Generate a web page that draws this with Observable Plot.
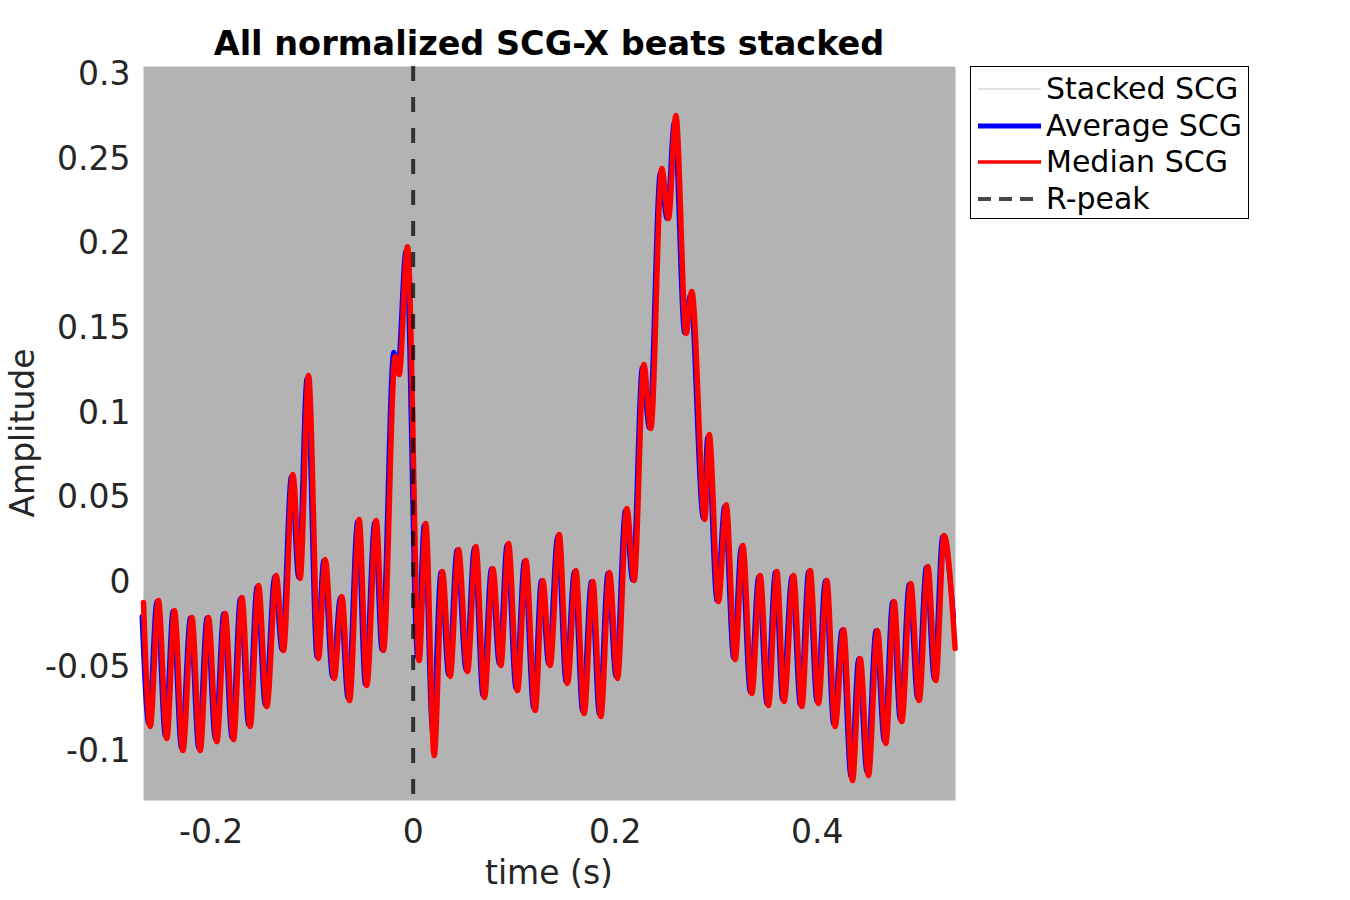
<!DOCTYPE html>
<html>
<head>
<meta charset="utf-8">
<script src="https://cdn.jsdelivr.net/npm/d3@7"></script>
<script src="https://cdn.jsdelivr.net/npm/@observablehq/plot@0.6"></script>
<style>
  body { margin: 0; background: #fff; font-family: "DejaVu Sans", sans-serif; }
  #wrap { position: relative; width: 1350px; height: 900px; overflow: hidden; }
  #chart { position: absolute; left: 0; top: 0; }
  #title { position: absolute; left: 549px; top: 44px; transform: translate(-50%, -50%);
           font-weight: bold; font-size: 33.5px; line-height: 1; color: #000; white-space: nowrap; }
  #ylab { position: absolute; left: 22px; top: 433px; transform: translate(-50%, -50%) rotate(-90deg);
          font-size: 33px; color: #262626; white-space: nowrap; line-height: 1; }
  #xlab { position: absolute; left: 549px; top: 872px; transform: translate(-50%, -50%);
          font-size: 33px; color: #262626; white-space: nowrap; line-height: 1; }
  #legend { position: absolute; left: 970px; top: 66px; width: 279px; height: 153px;
            border: 1px solid #000; background: #fff; box-sizing: border-box; }
  .row { position: absolute; left: 0; height: 36px; width: 100%; }
  .row svg { position: absolute; left: 6px; top: 0; }
  .row span { position: absolute; left: 75px; top: 50%; transform: translateY(-50%);
              font-size: 30px; color: #000; white-space: nowrap; line-height: 1; }
</style>
</head>
<body>
<div id="wrap">
  <div id="chart"></div>
  <div id="title">All normalized SCG-X beats stacked</div>
  <div id="ylab">Amplitude</div>
  <div id="xlab">time (s)</div>
  <div id="legend"></div>
</div>
<script>
// ---- data ----
const timeS = [
  -0.2670, -0.2604, -0.2522, -0.2439, -0.2363, -0.2280, -0.2191, -0.2109, -0.2027, -0.1944,
  -0.1861, -0.1779, -0.1696, -0.1614, -0.1531, -0.1449, -0.1356, -0.1284, -0.1191, -0.1119,
  -0.1036, -0.0937, -0.0871, -0.0782, -0.0706, -0.0630, -0.0535, -0.0459, -0.0366, -0.0294,
  -0.0178, -0.0139, -0.0056,  0.0059,  0.0125,  0.0208,  0.0290,  0.0366,  0.0449,  0.0538,
   0.0621,  0.0706,  0.0789,  0.0868,  0.0944,  0.1033,  0.1116,  0.1208,  0.1284,  0.1356,
   0.1446,  0.1528,  0.1611,  0.1693,  0.1779,  0.1858,  0.1944,  0.2023,  0.2116,  0.2188,
   0.2284,  0.2353,  0.2462,  0.2528,  0.2601,  0.2703,  0.2759,  0.2888,  0.2931,  0.3023,
   0.3099,  0.3188,  0.3264,  0.3353,  0.3436,  0.3518,  0.3601,  0.3673,  0.3766,  0.3848,
   0.3931,  0.4013,  0.4096,  0.4178,  0.4261,  0.4350,  0.4426,  0.4508,  0.4597,  0.4680,
   0.4762,  0.4838,  0.4927,  0.5010,  0.5096,  0.5175,  0.5257,  0.5366
];
const medianSCG = [
  -0.0118, -0.0850, -0.0106, -0.0921, -0.0165, -0.0992, -0.0207, -0.0992, -0.0207, -0.0939,
  -0.0183, -0.0927, -0.0089, -0.0850, -0.0018, -0.0732,  0.0041, -0.0401,  0.0638,  0.0024,
   0.1222, -0.0449,  0.0136, -0.0567, -0.0083, -0.0697,  0.0372, -0.0608,  0.0366, -0.0401,
   0.1334,  0.1228,  0.1983, -0.0460,  0.0348, -0.1021,  0.0065, -0.0555,  0.0195, -0.0525,
   0.0213, -0.0679,  0.0083, -0.0490,  0.0230, -0.0638,  0.0130, -0.0756,  0.0012, -0.0490,
   0.0283, -0.0596,  0.0071, -0.0773,  0.0006, -0.0791,  0.0059, -0.0567,  0.0437,  0.0012,
   0.1287,  0.0909,  0.2444,  0.2149,  0.2757,  0.1470,  0.1718,  0.0372,  0.0874, -0.0112,
   0.0460, -0.0455,  0.0218, -0.0655,  0.0041, -0.0726,  0.0065, -0.0702,  0.0041, -0.0732,
   0.0071, -0.0714,  0.0012, -0.0850, -0.0277, -0.1169, -0.0449, -0.1139, -0.0283, -0.0950,
  -0.0112, -0.0821, -0.0006, -0.0697,  0.0094, -0.0579,  0.0277, -0.0390
];
const averageSCG = [
  -0.0200, -0.0830, -0.0110, -0.0905, -0.0170, -0.0975, -0.0210, -0.0975, -0.0210, -0.0925,
  -0.0185, -0.0915, -0.0095, -0.0840, -0.0025, -0.0725,  0.0035, -0.0395,  0.0625,  0.0030,
   0.1205, -0.0440,  0.0130, -0.0560, -0.0090, -0.0685,  0.0360, -0.0600,  0.0355, -0.0395,
   0.1360,  0.1250,  0.1960, -0.0440,  0.0340, -0.0880,  0.0060, -0.0545,  0.0190, -0.0515,
   0.0205, -0.0665,  0.0080, -0.0480,  0.0220, -0.0625,  0.0125, -0.0740,  0.0010, -0.0480,
   0.0275, -0.0585,  0.0065, -0.0760,  0.0005, -0.0775,  0.0055, -0.0555,  0.0425,  0.0015,
   0.1270,  0.0915,  0.2420,  0.2150,  0.2720,  0.1475,  0.1700,  0.0380,  0.0860, -0.0105,
   0.0450, -0.0445,  0.0210, -0.0645,  0.0035, -0.0715,  0.0060, -0.0690,  0.0035, -0.0720,
   0.0065, -0.0700,  0.0010, -0.0835, -0.0280, -0.1145, -0.0450, -0.1120, -0.0285, -0.0935,
  -0.0115, -0.0810, -0.0010, -0.0685,  0.0090, -0.0570,  0.0270, -0.0207
];
const rPeakTime = [0];
const yTicks = [-0.1, -0.05, 0, 0.05, 0.1, 0.15, 0.2, 0.25, 0.3];
const xTicks = [-0.2, 0, 0.2, 0.4];
const legendLabels = ["Stacked SCG", "Average SCG", "Median SCG", "R-peak"];

// ---- build table ----
const rows = timeS.map((t, i) => ({t, med: medianSCG[i], avg: averageSCG[i]}));
const fmt = d => String(Math.round(d * 100) / 100);

const chart = Plot.plot({
  width: 1350,
  height: 900,
  marginLeft: 143,
  marginRight: 395,
  marginTop: 66,
  marginBottom: 100,
  style: {background: "transparent", fontFamily: "DejaVu Sans, sans-serif", fontSize: "33px", color: "#262626"},
  x: {domain: [-0.267, 0.537], ticks: xTicks, tickFormat: fmt},
  y: {domain: [-0.1287, 0.3047], ticks: yTicks, tickFormat: fmt},
  marks: [
    Plot.frame({fill: "#b3b3b3", stroke: null}),
    Plot.axisY({ticks: yTicks, tickFormat: fmt, tickSize: 0, tickPadding: 13, fontSize: 33, label: null}),
    Plot.axisX({ticks: xTicks, tickFormat: fmt, tickSize: 0, tickPadding: 19, fontSize: 33, label: null}),
    Plot.line(rows, {x: "t", y: "avg", stroke: "#0000ff", strokeWidth: 5, curve: "monotone-x", dx: -1.5}),
    Plot.line(rows, {x: "t", y: "med", stroke: "#ff0000", strokeWidth: 5.5, curve: "monotone-x"}),
    Plot.ruleX(rPeakTime, {stroke: "#000", strokeOpacity: 0.72, strokeWidth: 4, strokeDasharray: "15,16"})
  ]
});
document.getElementById("chart").appendChild(chart);

// ---- legend ----
const legendStyles = [
  {stroke: "#c4c4c4", width: 1, dash: null, op: 1},
  {stroke: "#0000ff", width: 5, dash: null, op: 1},
  {stroke: "#ff0000", width: 3.5, dash: null, op: 1},
  {stroke: "#000", width: 4, dash: "13,8", op: 0.72}
];
const legendTops = [4, 41, 77, 114];
const leg = document.getElementById("legend");
legendLabels.forEach((lab, i) => {
  const s = legendStyles[i];
  const row = document.createElement("div");
  row.className = "row";
  row.style.top = legendTops[i] + "px";
  row.innerHTML = `<svg width="66" height="36"><line x1="1" x2="64" y1="18" y2="18" stroke="${s.stroke}" stroke-width="${s.width}" stroke-opacity="${s.op}" ${s.dash ? `stroke-dasharray="${s.dash}"` : ""}/></svg><span>${lab}</span>`;
  leg.appendChild(row);
});
</script>
</body>
</html>
